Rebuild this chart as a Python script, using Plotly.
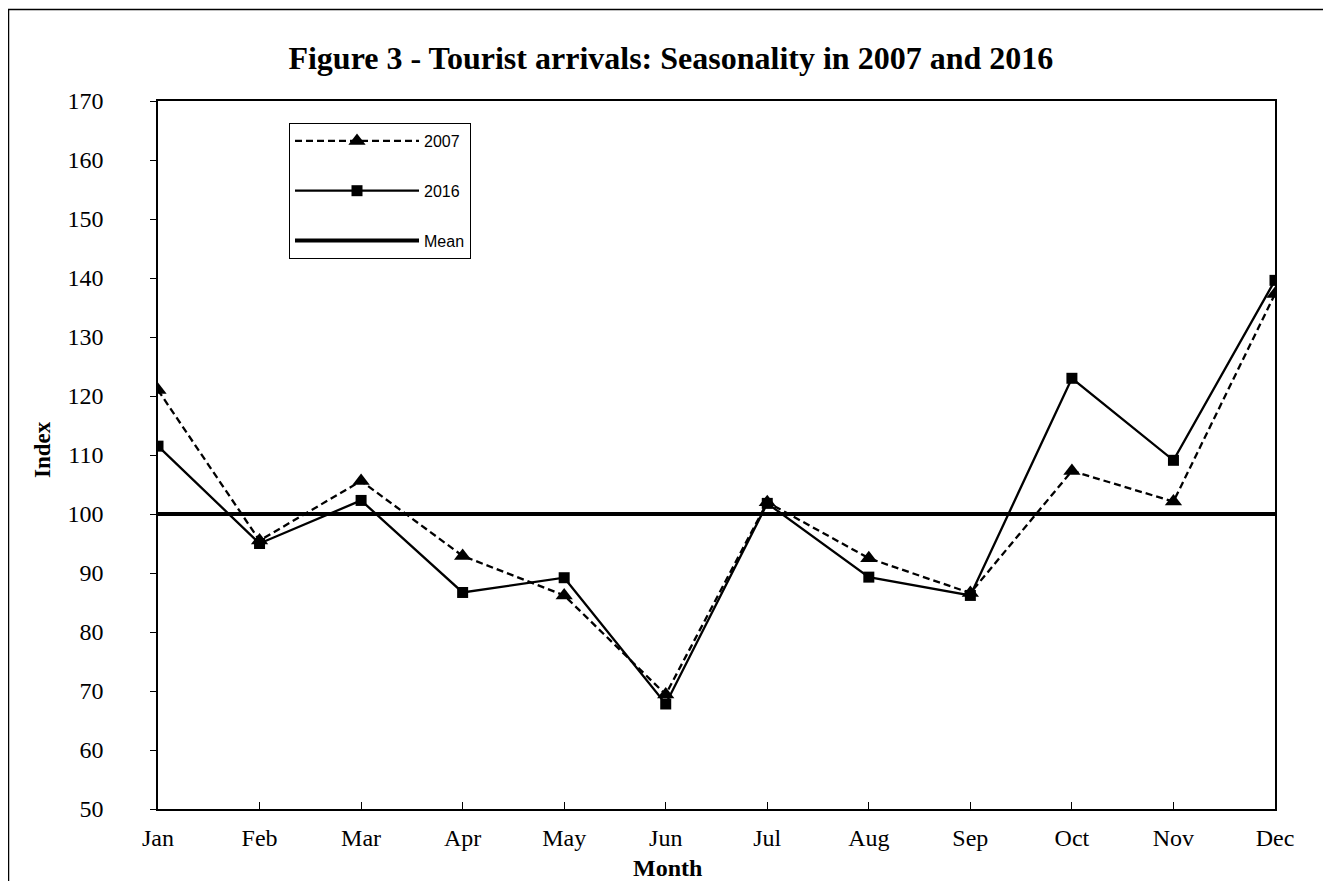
import plotly.graph_objects as go

months = ["Jan", "Feb", "Mar", "Apr", "May", "Jun", "Jul", "Aug", "Sep", "Oct", "Nov", "Dec"]
y2007 = [121.0, 95.5, 105.6, 92.9, 86.2, 69.4, 102.0, 92.5, 86.6, 107.3, 102.1, 137.3]
y2016 = [111.5, 95.0, 102.3, 86.7, 89.2, 67.8, 101.8, 89.3, 86.2, 123.0, 109.1, 139.6]
mean_val = [100] * 12

fig = go.Figure()
fig.add_trace(go.Scatter(x=months, y=y2007, name="2007", mode="lines+markers", legendgroup="a",
                         line=dict(color="black", width=2.3, dash="7px,4px"),
                         marker=dict(symbol="triangle-up", size=15, color="black")))
fig.add_trace(go.Scatter(x=months, y=y2016, name="2016", mode="lines+markers", legendgroup="b",
                         line=dict(color="black", width=2.3),
                         marker=dict(symbol="square", size=11, color="black")))
fig.add_trace(go.Scatter(x=months, y=mean_val, name="Mean", mode="lines", legendgroup="c",
                         line=dict(color="black", width=4)))

fig.update_layout(
    width=1331, height=881,
    margin=dict(l=150, r=64, t=93, b=80),
    paper_bgcolor="white", plot_bgcolor="white",
    font=dict(family="Liberation Serif", size=24, color="black"),
    title=dict(text="<b>Figure 3 - Tourist arrivals: Seasonality in 2007 and 2016</b>",
               x=0.498, xanchor="center", y=0.9432, yanchor="middle",
               font=dict(family="Liberation Serif", size=32, color="black")),
    xaxis=dict(type="category", range=[0, 11], showgrid=False, zeroline=False,
               showline=True, linecolor="black", linewidth=1.5, mirror=True,
               ticks="inside", ticklen=7, tickcolor="black", ticklabelstandoff=6,
               tickfont=dict(family="Liberation Serif", size=24)),
    yaxis=dict(range=[50, 170], dtick=10, showgrid=False, zeroline=False,
               showline=True, linecolor="black", linewidth=1.5, mirror=True,
               ticks="outside", ticklen=6, tickcolor="black",
               ticksuffix="\u2002\u2002\u2002\u2005",
               tickfont=dict(family="Liberation Serif", size=24)),
    legend=dict(x=(289 - 158) / 1117, y=(809 - 123) / 708, xanchor="left", yanchor="top",
                bordercolor="black", borderwidth=1, bgcolor="white",
                font=dict(family="Liberation Sans", size=16, color="black"),
                itemwidth=124, tracegroupgap=26, traceorder="grouped"),
    showlegend=True,
    annotations=[
        dict(text="<b>Month</b>", xref="paper", yref="paper",
             x=(667 - 158) / 1117, y=(809 - 868) / 708, xanchor="center", yanchor="middle",
             showarrow=False, font=dict(family="Liberation Serif", size=24, color="black")),
        dict(text="<b>Index</b>", xref="paper", yref="paper", textangle=-90,
             x=(42 - 158) / 1117, y=(809 - 450) / 708, xanchor="center", yanchor="middle",
             showarrow=False, font=dict(family="Liberation Serif", size=23, color="black")),
    ],
    shapes=[dict(type="rect", xref="paper", yref="paper",
                 x0=(8.5 - 158) / 1117, x1=(1329.5 - 158) / 1117,
                 y0=-0.13, y1=(809 - 9.5) / 708,
                 line=dict(color="black", width=1.5))],
)

fig.write_html("out.html")
